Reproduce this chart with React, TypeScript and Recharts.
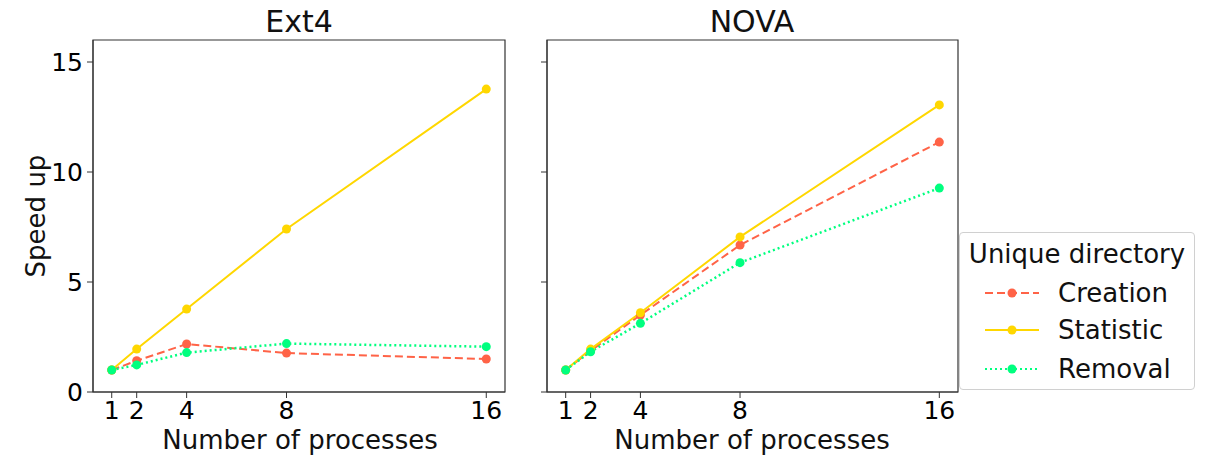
import React from "react";
import { LineChart, Line, XAxis, YAxis, ReferenceArea } from "recharts";

const processes = [1, 2, 4, 8, 16];
const xTicks = [1, 2, 4, 8, 16];
const yTicks = [0, 5, 10, 15];

const ext4Creation = [1.0, 1.42, 2.18, 1.77, 1.5];
const ext4Statistic = [1.0, 1.95, 3.77, 7.41, 13.77];
const ext4Removal = [1.0, 1.23, 1.79, 2.2, 2.06];

const novaCreation = [1.0, 1.87, 3.5, 6.68, 11.36];
const novaStatistic = [1.0, 1.95, 3.6, 7.05, 13.05];
const novaRemoval = [1.0, 1.83, 3.12, 5.88, 9.27];

const FONT = "'DejaVu Sans', sans-serif";
const CREATION = "#ff6347";
const STATISTIC = "#ffd700";
const REMOVAL = "#00ff7f";

function buildRows(c: number[], s: number[], r: number[]) {
  return processes.map((p, i) => ({ p, creation: c[i], statistic: s[i], removal: r[i] }));
}

const ext4Data = buildRows(ext4Creation, ext4Statistic, ext4Removal);
const novaData = buildRows(novaCreation, novaStatistic, novaRemoval);

interface PanelProps {
  data: { p: number; creation: number; statistic: number; removal: number }[];
  left: number;
  width: number;
  axisWidth: number;
  showYLabels: boolean;
}

function Panel({ data, left, width, axisWidth, showYLabels }: PanelProps) {
  const tickStyle = { fontSize: 25, fill: "#000", fontFamily: FONT };
  return (
    <div style={{ position: "absolute", left, top: 0 }}>
      <LineChart
        width={width}
        height={461}
        data={data}
        margin={{ top: 40, right: 15, bottom: 0, left: 0 }}
      >
        <XAxis
          dataKey="p"
          type="number"
          domain={[0.25, 16.75]}
          ticks={xTicks}
          allowDataOverflow
          height={69}
          tick={tickStyle}
          tickSize={6}
          tickMargin={3}
          stroke="#333"
        />
        <YAxis
          type="number"
          domain={[0, 16]}
          ticks={yTicks}
          width={axisWidth}
          tick={tickStyle}
          tickSize={6}
          tickMargin={4}
          stroke="#333"
          tickFormatter={(v: number) => (showYLabels ? String(v) : "")}
        />
        <ReferenceArea
          x1={0.25}
          x2={16.75}
          y1={0}
          y2={16}
          fill="none"
          stroke="#333"
          strokeWidth={1.2}
          ifOverflow="visible"
        />
        <Line
          dataKey="creation"
          stroke={CREATION}
          strokeWidth={2}
          strokeDasharray="8 4"
          dot={{ r: 4.5, fill: CREATION, stroke: "none" }}
          activeDot={false}
          isAnimationActive={false}
        />
        <Line
          dataKey="statistic"
          stroke={STATISTIC}
          strokeWidth={2}
          dot={{ r: 4.5, fill: STATISTIC, stroke: "none" }}
          activeDot={false}
          isAnimationActive={false}
        />
        <Line
          dataKey="removal"
          stroke={REMOVAL}
          strokeWidth={2.5}
          strokeDasharray="2 3"
          dot={{ r: 4.5, fill: REMOVAL, stroke: "none" }}
          activeDot={false}
          isAnimationActive={false}
        />
      </LineChart>
    </div>
  );
}

function LegendRow({ color, dash, label, top }: { color: string; dash?: string; label: string; top: number }) {
  return (
    <div style={{ position: "absolute", left: 0, top, height: 30, display: "flex", alignItems: "center" }}>
      <svg width={80} height={30} style={{ display: "block" }}>
        <line x1={25} y1={15} x2={79} y2={15} stroke={color} strokeWidth={2} strokeDasharray={dash} />
        <circle cx={52} cy={15} r={4.5} fill={color} />
      </svg>
      <span style={{ marginLeft: 18, fontSize: 26, fontFamily: FONT, color: "#111" }}>{label}</span>
    </div>
  );
}

const textStyle: React.CSSProperties = {
  position: "absolute",
  fontFamily: FONT,
  color: "#111",
  whiteSpace: "nowrap",
  transform: "translate(-50%, -50%)",
};

export default function App() {
  return (
    <div style={{ position: "absolute", left: 0, top: 0, width: 1212, height: 461, background: "#fff" }}>
      <Panel data={ext4Data} left={0} width={520} axisWidth={93} showYLabels={true} />
      <Panel data={novaData} left={480} width={493} axisWidth={67} showYLabels={false} />

      <div style={{ ...textStyle, left: 299, top: 21, fontSize: 30 }}>Ext4</div>
      <div style={{ ...textStyle, left: 752, top: 21, fontSize: 30 }}>NOVA</div>
      <div style={{ ...textStyle, left: 300, top: 440, fontSize: 26 }}>Number of processes</div>
      <div style={{ ...textStyle, left: 752, top: 440, fontSize: 26 }}>Number of processes</div>
      <div style={{ ...textStyle, left: 36, top: 216, fontSize: 26, transform: "translate(-50%, -50%) rotate(-90deg)" }}>
        Speed up
      </div>

      <div
        style={{
          position: "absolute",
          left: 959,
          top: 232,
          width: 236,
          height: 158,
          border: "1px solid #d0d0d0",
          borderRadius: 4,
          background: "#fff",
          boxSizing: "border-box",
        }}
      >
        <div style={{ ...textStyle, left: 117, top: 21, fontSize: 26 }}>Unique directory</div>
        <LegendRow color={CREATION} dash="8 4" label="Creation" top={45} />
        <LegendRow color={STATISTIC} label="Statistic" top={82} />
        <LegendRow color={REMOVAL} dash="2 3" label="Removal" top={121} />
      </div>
    </div>
  );
}
